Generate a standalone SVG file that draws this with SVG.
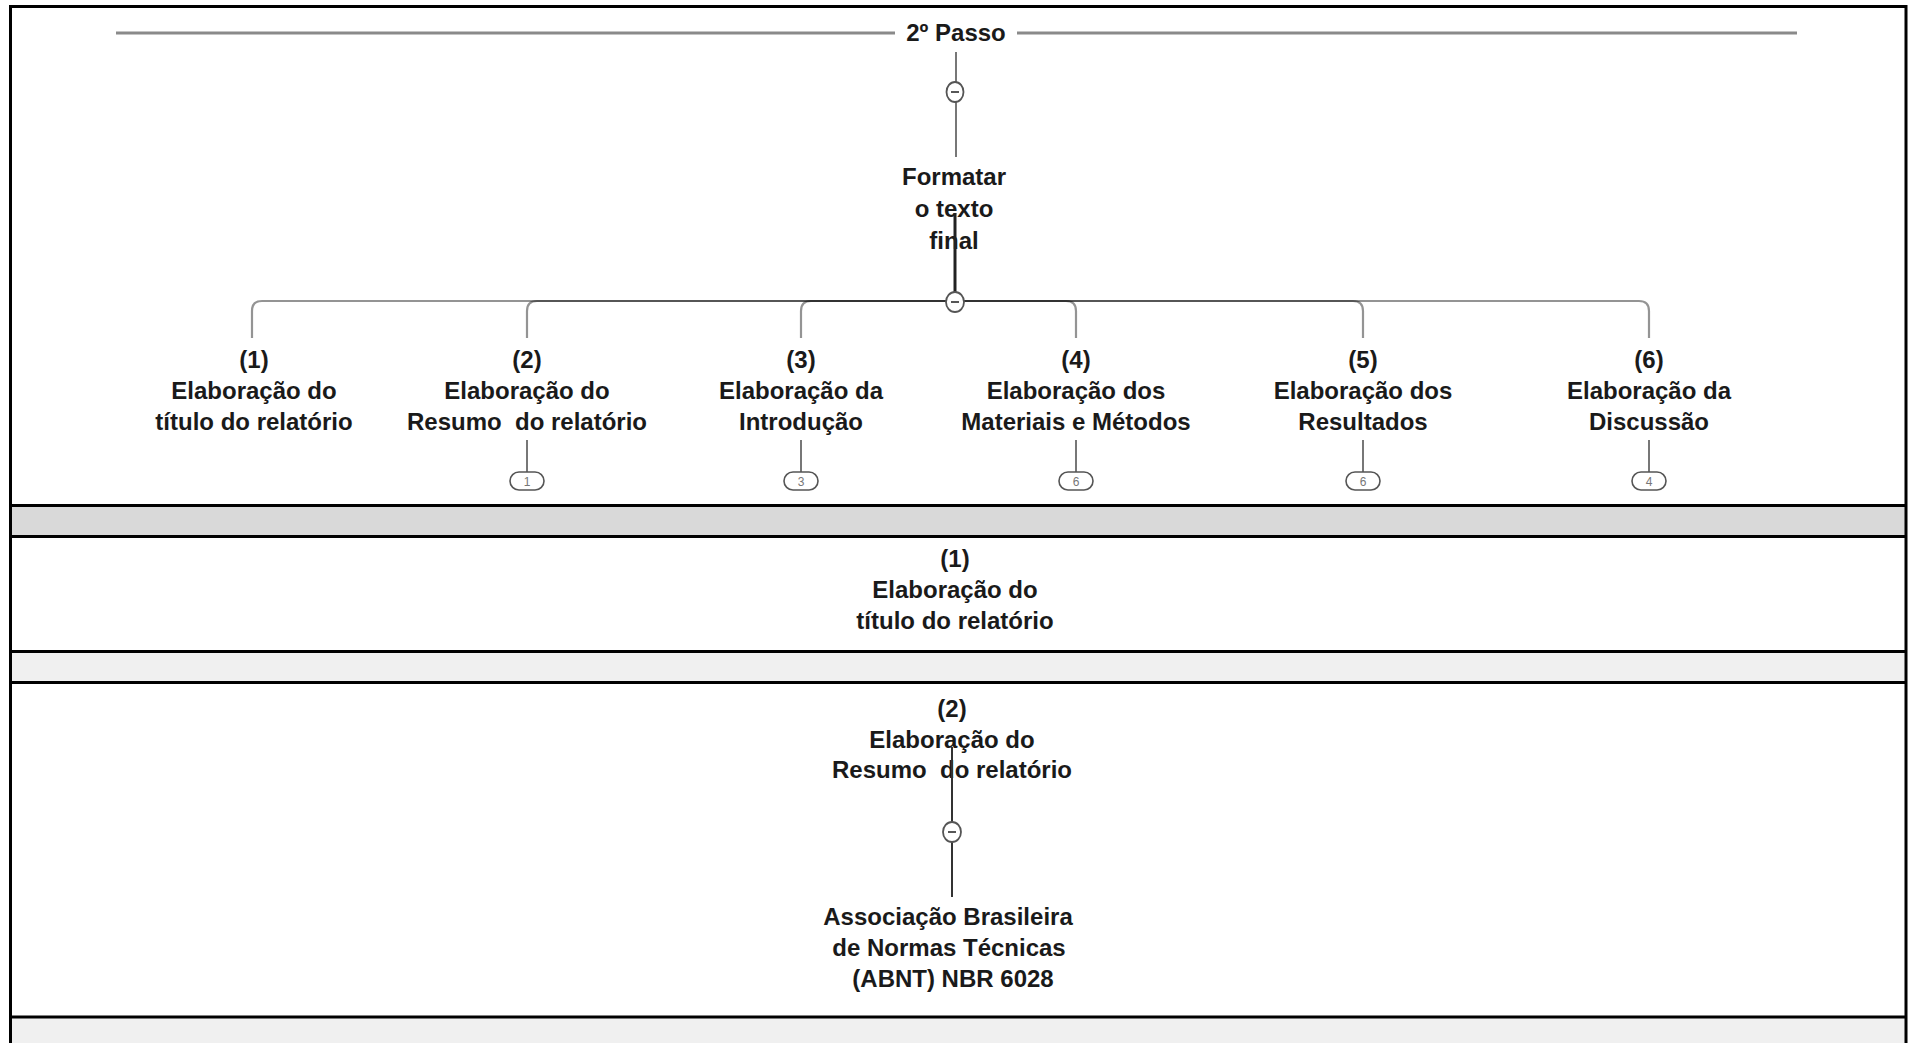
<svg xmlns="http://www.w3.org/2000/svg" width="1908" height="1043" viewBox="0 0 1908 1043">
<style>
.t{font-family:"Liberation Sans",Arial,sans-serif;font-size:24px;font-weight:bold;fill:#1a1a1a;text-anchor:middle;white-space:pre}
.d{font-family:"Liberation Sans",Arial,sans-serif;font-size:12px;fill:#777;text-anchor:middle}
.sep{stroke:#000;stroke-width:3;fill:none}
.br{fill:none;stroke:#000;stroke-opacity:0.42;stroke-width:2.2}
.thin{stroke:#555;stroke-width:1.6;fill:none}
.tog{fill:#fff;stroke:#555;stroke-width:1.8}
.minus{stroke:#444;stroke-width:1.8}
.pill{fill:#fff;stroke:#555;stroke-width:1.6}
</style>
<rect x="0" y="0" width="1908" height="1043" fill="#fff"/>
<g id="bands">
<rect x="10" y="506" width="1896" height="30" fill="#d9d9d9"/>
<rect x="10" y="652" width="1896" height="30" fill="#f0f0f0"/>
<rect x="10" y="1017" width="1896" height="26" fill="#f0f0f0"/>
<line class="sep" x1="10" y1="6.5" x2="1906" y2="6.5"/>
<line class="sep" x1="10" y1="505.5" x2="1906" y2="505.5"/>
<line class="sep" x1="10" y1="536.5" x2="1906" y2="536.5"/>
<line class="sep" x1="10" y1="651.5" x2="1906" y2="651.5"/>
<line class="sep" x1="10" y1="682.5" x2="1906" y2="682.5"/>
<line class="sep" x1="10" y1="1017" x2="1906" y2="1017"/>
<line class="sep" x1="10.5" y1="5" x2="10.5" y2="1043"/>
<line class="sep" x1="1906" y1="5" x2="1906" y2="1043"/>
</g>
<g id="node-passo">
<line x1="116" y1="33" x2="895" y2="33" stroke="#8a8a8a" stroke-width="3"/>
<line x1="1017" y1="33" x2="1797" y2="33" stroke="#8a8a8a" stroke-width="3"/>
<text class="t" x="956" y="41">2º Passo</text>
</g>
<g id="node-formatar">
<text class="t" x="954" y="185">Formatar</text>
<text class="t" x="954" y="217">o texto</text>
<text class="t" x="954" y="249">final</text>
</g>
<g id="node-c1">
<text class="t" x="254" y="368">(1)</text>
<text class="t" x="254" y="399">Elaboração do</text>
<text class="t" x="254" y="430">título do relatório</text>
</g>
<g id="node-c2">
<text class="t" x="527" y="368">(2)</text>
<text class="t" x="527" y="399">Elaboração do</text>
<text class="t" x="527" y="430">Resumo  do relatório</text>
</g>
<g id="node-c3">
<text class="t" x="801" y="368">(3)</text>
<text class="t" x="801" y="399">Elaboração da</text>
<text class="t" x="801" y="430">Introdução</text>
</g>
<g id="node-c4">
<text class="t" x="1076" y="368">(4)</text>
<text class="t" x="1076" y="399">Elaboração dos</text>
<text class="t" x="1076" y="430">Materiais e Métodos</text>
</g>
<g id="node-c5">
<text class="t" x="1363" y="368">(5)</text>
<text class="t" x="1363" y="399">Elaboração dos</text>
<text class="t" x="1363" y="430">Resultados</text>
</g>
<g id="node-c6">
<text class="t" x="1649" y="368">(6)</text>
<text class="t" x="1649" y="399">Elaboração da</text>
<text class="t" x="1649" y="430">Discussão</text>
</g>
<g id="node-s1">
<text class="t" x="955" y="567">(1)</text>
<text class="t" x="955" y="598">Elaboração do</text>
<text class="t" x="955" y="629">título do relatório</text>
</g>
<g id="node-s2">
<text class="t" x="952" y="717">(2)</text>
<text class="t" x="952" y="748">Elaboração do</text>
<text class="t" x="952" y="778">Resumo  do relatório</text>
</g>
<g id="node-abnt">
<text class="t" x="948" y="925">Associação Brasileira</text>
<text class="t" x="949" y="956">de Normas Técnicas</text>
<text class="t" x="953" y="987">(ABNT) NBR 6028</text>
</g>
<g id="connectors">
<line class="thin" x1="956" y1="52" x2="956" y2="157"/>
<ellipse class="tog" cx="955" cy="92" rx="8.5" ry="10"/>
<line class="minus" x1="951" y1="92" x2="959" y2="92"/>
<line x1="955" y1="213" x2="955" y2="300" stroke="#222" stroke-width="3"/>
<path class="br" d="M955,301 H262 Q252,301 252,311 V338"/>
<path class="br" d="M955,301 H537 Q527,301 527,311 V338"/>
<path class="br" d="M955,301 H811 Q801,301 801,311 V338"/>
<path class="br" d="M955,301 H1066 Q1076,301 1076,311 V338"/>
<path class="br" d="M955,301 H1353 Q1363,301 1363,311 V338"/>
<path class="br" d="M955,301 H1639 Q1649,301 1649,311 V338"/>
<ellipse class="tog" cx="955" cy="302" rx="9" ry="10"/>
<line class="minus" x1="951" y1="302" x2="959" y2="302"/>
<g id="pills">
<line class="thin" x1="527" y1="440" x2="527" y2="472"/>
<rect class="pill" x="510" y="472" width="34" height="18" rx="9"/>
<text class="d" x="527" y="485.5">1</text>
<line class="thin" x1="801" y1="440" x2="801" y2="472"/>
<rect class="pill" x="784" y="472" width="34" height="18" rx="9"/>
<text class="d" x="801" y="485.5">3</text>
<line class="thin" x1="1076" y1="440" x2="1076" y2="472"/>
<rect class="pill" x="1059" y="472" width="34" height="18" rx="9"/>
<text class="d" x="1076" y="485.5">6</text>
<line class="thin" x1="1363" y1="440" x2="1363" y2="472"/>
<rect class="pill" x="1346" y="472" width="34" height="18" rx="9"/>
<text class="d" x="1363" y="485.5">6</text>
<line class="thin" x1="1649" y1="440" x2="1649" y2="472"/>
<rect class="pill" x="1632" y="472" width="34" height="18" rx="9"/>
<text class="d" x="1649" y="485.5">4</text>
</g>
<line x1="952" y1="747" x2="952" y2="897" stroke="#333" stroke-width="2"/>
<ellipse class="tog" cx="952" cy="832" rx="9" ry="10"/>
<line class="minus" x1="948" y1="832" x2="956" y2="832"/>
</g>
</svg>
